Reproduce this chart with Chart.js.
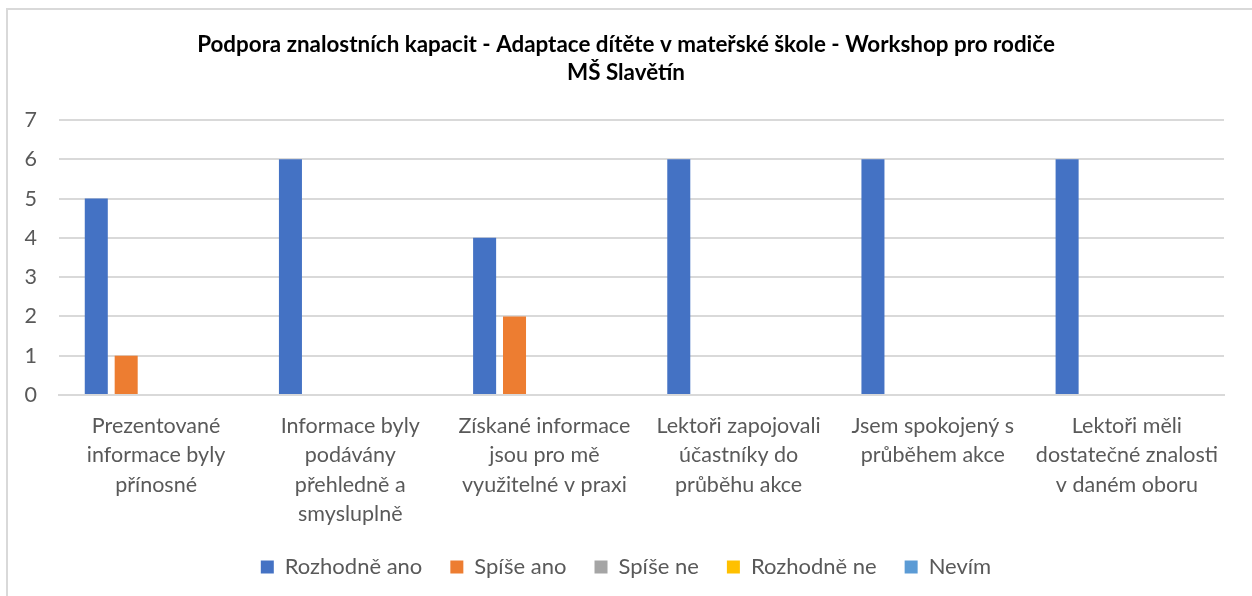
<!DOCTYPE html>
<html>
<head>
<meta charset="utf-8">
<script src="https://cdn.jsdelivr.net/npm/chart.js@4"></script>
<style>
  body { margin: 0; background: #fff; }
  #frame { position: absolute; left: 6px; top: 8px; width: 1300px; height: 700px; border-left: 2px solid #d9d9d9; border-top: 2px solid #d9d9d9; }
  #wrap { position: absolute; left: 0; top: 0; width: 1252px; height: 596px; }
</style>
</head>
<body>
<div id="frame"></div>
<div id="wrap"><canvas id="myChart"></canvas></div>
<script>
// categories (multi-line labels like in the original)
const categories = [
  ['Prezentované', 'informace byly', 'přínosné'],
  ['Informace byly', 'podávány', 'přehledně a', 'smysluplně'],
  ['Získané informace', 'jsou pro mě', 'využitelné v praxi'],
  ['Lektoři zapojovali', 'účastníky do', 'průběhu akce'],
  ['Jsem spokojený s', 'průběhem akce'],
  ['Lektoři měli', 'dostatečné znalosti', 'v daném oboru']
];
const seriesNames = ['Rozhodně ano', 'Spíše ano', 'Spíše ne', 'Rozhodně ne', 'Nevím'];
const rozhodneAno = [5, 6, 4, 6, 6, 6];
const spiseAno = [1, 0, 2, 0, 0, 0];
const spiseNe = [0, 0, 0, 0, 0, 0];
const rozhodneNe = [0, 0, 0, 0, 0, 0];
const nevim = [0, 0, 0, 0, 0, 0];
const yTicks = [0, 1, 2, 3, 4, 5, 6, 7];

const colors = ['#4472C4', '#ED7D31', '#A5A5A5', '#FFC000', '#5B9BD5'];
const values = [rozhodneAno, spiseAno, spiseNe, rozhodneNe, nevim];

const font = "Lato, 'Open Sans', sans-serif";
const ctx = document.getElementById('myChart').getContext('2d');
const myChart = new Chart(ctx, {
  type: 'bar',
  data: {
    labels: categories,
    datasets: seriesNames.map((name, i) => ({
      label: name,
      data: values[i],
      backgroundColor: colors[i],
      borderWidth: 0,
      categoryPercentage: 0.77,
      barPercentage: 0.77
    }))
  },
  options: {
    responsive: true,
    maintainAspectRatio: false,
    animation: false,
    layout: { padding: { left: 0, right: 0, top: 0, bottom: 8 } },
    plugins: {
      title: {
        display: true,
        text: ['Podpora znalostních kapacit - Adaptace dítěte v mateřské škole - Workshop pro rodiče', 'MŠ Slavětín'],
        color: '#000',
        font: { family: font, size: 22.4, weight: 'bold', lineHeight: 1.25 },
        padding: { top: 31, bottom: 33 }
      },
      legend: {
        position: 'bottom',
        labels: {
          color: '#595959',
          font: { family: font, size: 22 },
          boxWidth: 13,
          boxHeight: 13,
          padding: 28
        }
      },
      tooltip: { enabled: false }
    },
    scales: {
      x: {
        grid: { display: false },
        border: { color: '#d9d9d9', width: 2 },
        ticks: {
          color: '#595959',
          font: { family: font, size: 21.5, lineHeight: 1.37 },
          maxRotation: 0,
          autoSkip: false,
          padding: 8
        },
        afterFit: (axis) => { axis.height = 133; }
      },
      y: {
        min: 0,
        max: 7,
        grid: { color: '#d9d9d9', lineWidth: 2, drawTicks: false },
        border: { display: false },
        ticks: {
          color: '#595959',
          font: { family: font, size: 21.5 },
          stepSize: 1,
          padding: 22,
          callback: (v) => yTicks.includes(v) ? v : ''
        },
        afterFit: (axis) => { axis.width = 59; }
      },
      // empty right axis, only keeps the plot off the right edge
      yRight: {
        position: 'right',
        grid: { display: false },
        border: { display: false },
        ticks: { display: false },
        afterFit: (axis) => { axis.width = 28; }
      }
    }
  }
});
</script>
</body>
</html>
